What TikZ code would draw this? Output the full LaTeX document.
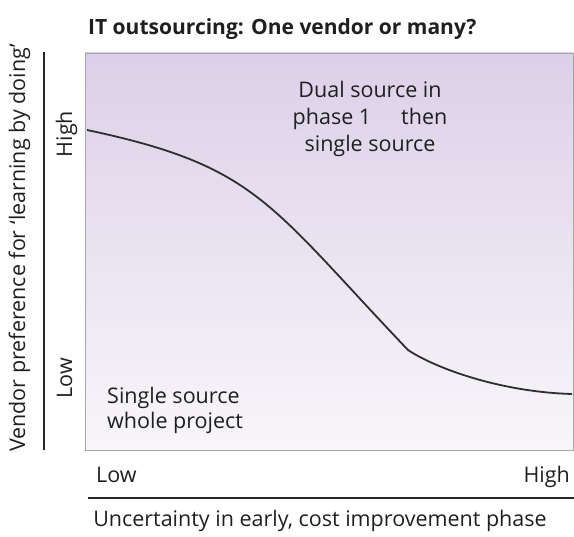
\documentclass[tikz,border=0pt]{standalone}
\usepackage{fontspec}
\setmainfont{Open Sans}
\begin{document}
\begin{tikzpicture}[x=1pt,y=-1pt,
  txt/.style={text=black!88, inner sep=0pt, font=\fontsize{21.5}{26}\selectfont},
  axisline/.style={draw=black!85, line width=1.1pt},
  curve/.style={draw=black!82, line width=1.8pt, line join=round}]
\useasboundingbox (0,0) rectangle (574,537);
\definecolor{plottop}{RGB}{220,208,232}
\definecolor{plotbot}{RGB}{248,246,250}
% title
\node[txt, anchor=base west, font=\fontsize{21}{24}\selectfont\bfseries] (title) at (88,35) {IT outsourcing: One vendor or many?};
% plot area
\shade[top color=plottop, bottom color=plotbot] (85,53) rectangle (573,450);
\draw[draw=black!35, line width=0.8pt] (85,53) rectangle (573,450);
% curve
\coordinate (c0) at (87,130);
\coordinate (ck) at (408,350);
\coordinate (c1) at (572,394);
\draw[curve] (c0) .. controls (257,166) and (268,203) .. (ck)
  .. controls (435,368) and (500,392) .. (c1);
% region labels
\node[txt, anchor=base] (dual1) at (370,98) {Dual source in};
\node[txt, anchor=base] (dual2) at (370,125) {phase 1\hspace{30pt}then};
\node[txt, anchor=base] (dual3) at (370,152) {single source};
\node[txt, anchor=base west] (single1) at (107,404) {Single source};
\node[txt, anchor=base west] (single2) at (107,429) {whole project};
% vertical axis
\coordinate (ya) at (44,52);
\coordinate (yb) at (44,450);
\draw[axisline] (ya) -- (yb);
\node[txt, rotate=90, anchor=base] (yhigh) at (72,134) {High};
\node[txt, rotate=90, anchor=base] (ylow) at (72,378) {Low};
\node[txt, rotate=90, anchor=base] (ylabel) at (25,248) {Vendor preference for ‘learning by doing’};
% horizontal axis
\coordinate (xa) at (88,498);
\coordinate (xb) at (574,498);
\draw[axisline] (xa) -- (xb);
\node[txt, anchor=base west] (xlow) at (96,483) {Low};
\node[txt, anchor=base east] (xhigh) at (570,483) {High};
\node[txt, anchor=base] (xlabel) at (320,527) {Uncertainty in early, cost improvement phase};
\end{tikzpicture}
\end{document}
